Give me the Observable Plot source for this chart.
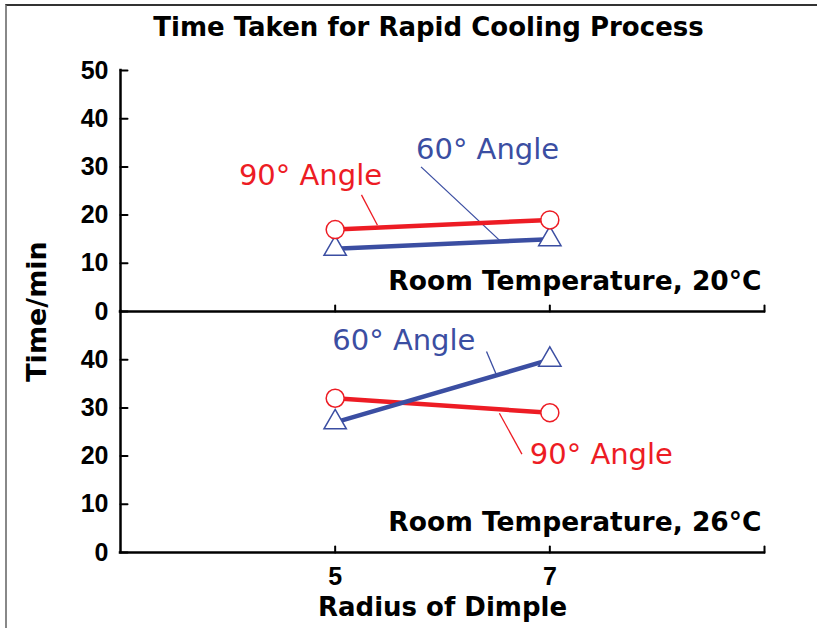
<!DOCTYPE html>
<html><head><meta charset="utf-8">
<script src="https://cdn.jsdelivr.net/npm/d3@7"></script>
<script src="https://cdn.jsdelivr.net/npm/@observablehq/plot@0.6"></script>
<style>
body{margin:0;background:#fff;width:817px;height:628px;overflow:hidden;position:relative;font-family:"Liberation Sans",Arial,sans-serif;}
#frame{position:absolute;left:5px;top:4px;width:812px;height:624px;border-top:2px solid #333;border-left:2px solid #888;box-sizing:border-box;}
#title{position:absolute;left:20px;top:10px;width:817px;text-align:center;font-family:"DejaVu Sans",sans-serif;font-weight:bold;font-size:26px;line-height:34px;color:#000;}
#chart{position:absolute;left:7px;top:56px;}
</style></head>
<body>
<div id="frame"></div>
<div id="title">Time Taken for Rapid Cooling Process</div>
<div id="chart"></div>
<script>
// ---- data ----
const panels = ["20", "26"];
const panelLabels = ["Room Temperature, 20°C", "Room Temperature, 26°C"];
const radius = [5, 7];
const angle90_20 = [17, 19];
const angle60_20 = [13, 15];
const angle90_26 = [32, 29];
const angle60_26 = [27, 40];
const yTicksTop = [0, 10, 20, 30, 40, 50];
const yTicksBottom = [0, 10, 20, 30, 40];
const xTickLabels = [5, 7];
const xTickMarks = [5, 7, 9];
const xDomain = [3, 9];
const yDomain = [0, 50];
const red = "#ed1c24";
const blue = "#3b4ea2";

// annotation label positions (data coordinates) and leader lines
const labelPanel = ["20", "20", "26", "26"];
const labelText = ["90° Angle", "60° Angle", "60° Angle", "90° Angle"];
const labelX = [4.77, 6.42, 5.64, 7.48];
const labelY = [28.1, 33.5, 44.0, 20.2];
const labelColor = [red, blue, blue, red];
const leaderX1 = [5.245, 5.80, 6.41, 6.53];
const leaderY1 = [24.2, 30.0, 41.7, 28.9];
const leaderX2 = [5.394, 6.54, 6.50, 6.74];
const leaderY2 = [17.9, 14.6, 37.0, 20.4];

// ---- build tables ----
function seriesRows(panel, values) { return radius.map((r, i) => ({panel, x: r, y: values[i]})); }
const s90 = [...seriesRows("20", angle90_20), ...seriesRows("26", angle90_26)];
const s60 = [...seriesRows("20", angle60_20), ...seriesRows("26", angle60_26)];
const panelRows = panels.map((p, i) => ({panel: p, label: panelLabels[i]}));
const yTickRows = [...yTicksTop.map(v => ({panel: "20", v})), ...yTicksBottom.map(v => ({panel: "26", v}))];
const xTickRows = panels.flatMap(p => xTickMarks.map(v => ({panel: p, v})));
const xLabelRows = xTickLabels.map(v => ({panel: "26", v}));
const labels = labelText.map((t, i) => ({panel: labelPanel[i], text: t, x: labelX[i], y: labelY[i], color: labelColor[i],
  x1: leaderX1[i], y1: leaderY1[i], x2: leaderX2[i], y2: leaderY2[i]}));

const tickShape = {draw(context, l) { context.moveTo(0, 0); context.lineTo(0, -l); }};
const bold = {fontWeight: "bold", fill: "#000"};
const wide = "'DejaVu Sans', sans-serif";

const chart = Plot.plot({
  width: 810, height: 572,
  marginLeft: 113, marginRight: 53, marginTop: 14, marginBottom: 76,
  style: {fontFamily: "'Liberation Sans', Arial, sans-serif", background: "transparent", overflow: "visible"},
  x: {domain: xDomain, axis: null},
  y: {domain: yDomain, axis: null},
  fy: {domain: panels, axis: null, padding: 0},
  color: {type: "identity"},
  marks: [
    // axes
    Plot.ruleX(panelRows, {x: () => xDomain[0], fy: "panel", stroke: "#000", strokeWidth: 2.5, strokeLinecap: "square"}),
    Plot.ruleY(panelRows, {y: () => yDomain[0], fy: "panel", stroke: "#000", strokeWidth: 2.5, strokeLinecap: "square"}),
    Plot.vector(yTickRows, {y: "v", fy: "panel", frameAnchor: "left", rotate: 90, length: 7, anchor: "start", shape: tickShape, stroke: "#000", strokeWidth: 2}),
    Plot.vector(xTickRows, {x: "v", fy: "panel", frameAnchor: "bottom", rotate: 0, length: 6, anchor: "start", shape: tickShape, stroke: "#000", strokeWidth: 2}),
    Plot.text(yTickRows, {y: "v", fy: "panel", text: d => String(d.v), frameAnchor: "left", textAnchor: "end", dx: -12, fontSize: 25, ...bold}),
    Plot.text(xLabelRows, {x: "v", fy: "panel", text: d => String(d.v), frameAnchor: "bottom", dy: 32, fontSize: 25, ...bold}),
    Plot.text([{panel: "26"}], {fy: "panel", text: () => "Radius of Dimple", frameAnchor: "bottom", dy: 63, fontSize: 26, fontFamily: wide, ...bold}),
    Plot.text([{panel: "20"}], {fy: "panel", text: () => "Time/min", frameAnchor: "bottom-left", dx: -75, rotate: -90, textAnchor: "middle", fontSize: 27, fontFamily: wide, ...bold}),
    Plot.text(panelRows, {fy: "panel", text: "label", frameAnchor: "bottom-right", textAnchor: "end", dx: -3, dy: -22, fontSize: 26.5, fontFamily: wide, ...bold}),
    // leaders
    Plot.link(labels, {x1: "x1", y1: "y1", x2: "x2", y2: "y2", fy: "panel", stroke: "color", strokeWidth: 1.3}),
    Plot.text(labels, {x: "x", y: "y", fy: "panel", text: "text", fill: "color", fontSize: 29, fontFamily: wide}),
    // series
    Plot.line(s90, {x: "x", y: "y", z: "panel", fy: "panel", stroke: red, strokeWidth: 4.5}),
    Plot.line(s60, {x: "x", y: "y", z: "panel", fy: "panel", stroke: blue, strokeWidth: 4.5}),
    Plot.dot(s60, {x: "x", y: "y", fy: "panel", symbol: "triangle", r: 8.3, stroke: blue, fill: "#fff", strokeWidth: 1.5}),
    Plot.dot(s90, {x: "x", y: "y", fy: "panel", symbol: "circle", r: 9, stroke: red, fill: "#fff", strokeWidth: 1.5})
  ]
});
document.getElementById("chart").appendChild(chart);
</script>
</body></html>
